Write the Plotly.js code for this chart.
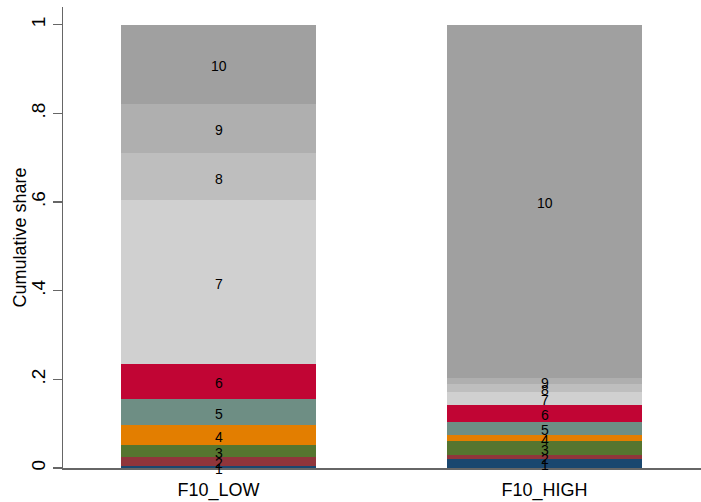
<!DOCTYPE html>
<html>
<head>
<meta charset="utf-8">
<script src="https://cdn.plot.ly/plotly-3.0.1.min.js"></script>
<style>html,body{margin:0;padding:0;background:#fff;}#chart{width:701px;height:502px;}</style>
</head>
<body>
<div id="chart"></div>
<script>
// Categories (bars)
const categories = ["F10_LOW", "F10_HIGH"];
// Segment labels (deciles, bottom to top)
const segmentLabels = ["1","2","3","4","5","6","7","8","9","10"];
// Share of each segment per bar (bottom to top)
const sharesLow  = [0.005, 0.020, 0.027, 0.0455, 0.0585, 0.0796, 0.3684, 0.107, 0.110, 0.179];
const sharesHigh = [0.021, 0.0074, 0.0316, 0.0143, 0.0297, 0.039, 0.0295, 0.0165, 0.015, 0.796];
// Y tick labels
const yTickVals = [0, 0.2, 0.4, 0.6, 0.8, 1];
const yTickText = ["0", ".2", ".4", ".6", ".8", "1"];
const yTitle = "Cumulative share";
// Segment colours
const segColors = ["#1a476f","#90353b","#55752f","#e37e00","#6e8e84","#c10534","#d0d0d0","#bebebe","#afafaf","#a0a0a0"];

const FONT = "Arial, 'Liberation Sans', sans-serif";
const traces = [];
segmentLabels.forEach((lab, i) => {
  traces.push({
    type: "bar",
    x: categories,
    y: [sharesLow[i], sharesHigh[i]],
    name: lab,
    marker: {color: segColors[i], line: {width: 0}},
    hoverinfo: "skip"
  });
});

// Label positions at segment centres, derived from data
function mids(shares) {
  let c = 0; const out = [];
  shares.forEach(s => { out.push(c + s / 2); c += s; });
  return out;
}
const midLow = mids(sharesLow), midHigh = mids(sharesHigh);
const annotations = [];
segmentLabels.forEach((lab, i) => {
  [[categories[0], midLow[i]], [categories[1], midHigh[i]]].forEach(([cx, cy]) => {
    annotations.push({
      x: cx, y: cy, xref: "x", yref: "y", text: lab, showarrow: false,
      xanchor: "center", yanchor: "middle", yshift: -2,
      font: {family: FONT, size: 14, color: "#000"}
    });
  });
});
// Y axis title
annotations.push({
  text: yTitle, xref: "paper", yref: "paper", x: -0.0674, y: 0.5,
  xanchor: "center", yanchor: "middle", textangle: -90, showarrow: false,
  font: {family: FONT, size: 18, color: "#000"}
});

const layout = {
  width: 701, height: 502,
  margin: {l: 63, r: 0, t: 7, b: 34},
  paper_bgcolor: "#fff", plot_bgcolor: "#fff",
  barmode: "stack", bargap: 0.402,
  showlegend: false,
  font: {family: FONT, color: "#000"},
  annotations: annotations,
  xaxis: {
    type: "category",
    range: [-0.477, 1.48],
    showgrid: false, zeroline: false,
    showline: true, linecolor: "#666", linewidth: 1.5,
    ticks: "", tickfont: {size: 18, family: FONT, color: "#000"},
    ticklabelstandoff: 5
  },
  yaxis: {
    range: [0, 1.04],
    tickvals: yTickVals, ticktext: yTickText,
    tickangle: -90,
    showgrid: false, zeroline: false,
    showline: true, linecolor: "#666", linewidth: 1.5,
    ticks: "outside", ticklen: 9, tickwidth: 1.5, tickcolor: "#666",
    tickfont: {size: 19, family: FONT, color: "#000"}
  }
};
Plotly.newPlot("chart", traces, layout, {displayModeBar: false, staticPlot: true});
</script>
</body>
</html>
